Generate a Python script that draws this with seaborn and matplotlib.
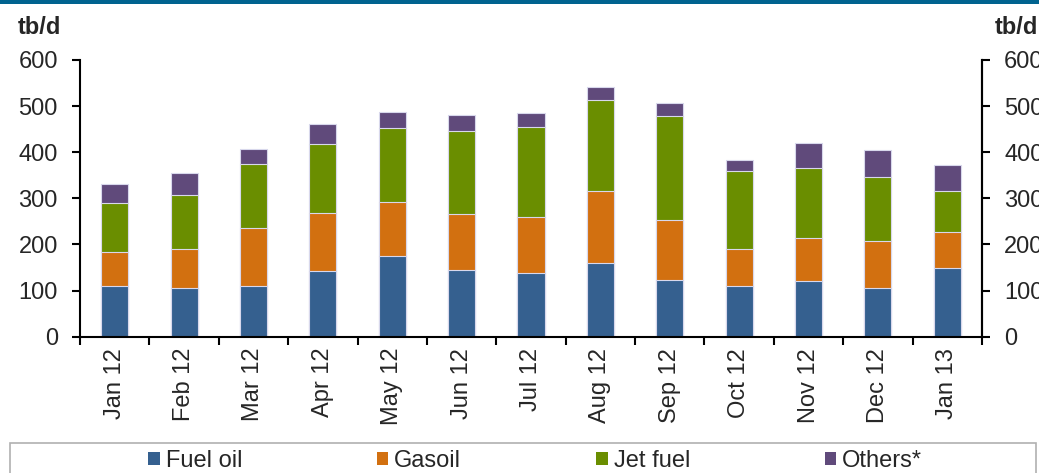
import numpy as np
import pandas as pd
import matplotlib
matplotlib.use("Agg")
import matplotlib.pyplot as plt
from matplotlib.patches import Rectangle, Patch
import seaborn as sns

months = ["Jan 12", "Feb 12", "Mar 12", "Apr 12", "May 12", "Jun 12", "Jul 12",
          "Aug 12", "Sep 12", "Oct 12", "Nov 12", "Dec 12", "Jan 13"]
fuel_oil = [110, 105, 111, 142, 176, 144, 139, 159, 124, 110, 121, 106, 149]
gasoil = [73, 86, 124, 126, 116, 122, 121, 158, 128, 81, 92, 101, 77]
jet_fuel = [106, 117, 140, 150, 161, 181, 195, 197, 226, 169, 153, 140, 89]
others = [43, 46, 33, 44, 34, 33, 31, 27, 29, 24, 55, 58, 58]
y_ticks = [0, 100, 200, 300, 400, 500, 600]

series_names = ["Fuel oil", "Gasoil", "Jet fuel", "Others*"]
colors = ["#35608F", "#D27010", "#6A8E00", "#604A7B"]

sns.set_theme(style="white")
plt.rcParams["font.family"] = ["Liberation Sans", "DejaVu Sans"]
plt.rcParams["font.size"] = 17

df = pd.DataFrame({"month": months, "Fuel oil": fuel_oil, "Gasoil": gasoil,
                   "Jet fuel": jet_fuel, "Others*": others})
cum = df[series_names].cumsum(axis=1)

fig = plt.figure(figsize=(10.39, 4.73), dpi=100)
ax = fig.add_axes([80 / 1039, 1 - 336.7 / 473, (982 - 80) / 1039, (336.7 - 60) / 473])

# stacked bars: draw cumulative totals from the top layer down
for name, col in reversed(list(zip(series_names, colors))):
    sns.barplot(x=df["month"], y=cum[name], color=col, width=0.39,
                edgecolor="#d8d8ec", linewidth=0.8, saturation=1, ax=ax)

ax.set_xlim(-0.5, len(months) - 0.5)
ax.set_ylim(0, 600)
ax.set_yticks(y_ticks)
ax.set_yticklabels([str(v) for v in y_ticks])
ax.set_xlabel("")
ax.set_ylabel("")

# category boundaries as ticks, labels at category centers
ax.set_xticks(np.arange(-0.5, len(months), 1.0))
ax.set_xticklabels([])
ax.set_xticks(np.arange(len(months)), minor=True)
ax.set_xticklabels(months, minor=True, rotation=90, fontsize=17)
ax.tick_params(axis="x", which="major", direction="out", length=6, width=1.5,
               color="black", bottom=True)
ax.tick_params(axis="x", which="minor", length=0, pad=8)
ax.tick_params(axis="y", direction="out", length=6, width=1.5, color="black",
               left=True, labelsize=17, pad=10)

for s in ["left", "bottom", "right"]:
    ax.spines[s].set_visible(True)
    ax.spines[s].set_color("black")
    ax.spines[s].set_linewidth(1.5)
ax.spines["top"].set_visible(False)
ax.grid(False)

ax2 = ax.twinx()
ax2.set_ylim(0, 600)
ax2.set_yticks(y_ticks)
ax2.set_yticklabels([str(v) for v in y_ticks])
ax2.tick_params(axis="y", direction="out", length=6, width=1.5, color="black",
                right=True, labelsize=17, pad=10)
for s in ["left", "bottom", "top"]:
    ax2.spines[s].set_visible(False)
ax2.spines["right"].set_color("black")
ax2.spines["right"].set_linewidth(1.5)
ax2.grid(False)

# unit labels
fig.text(18 / 1039, 1 - 28 / 473, "tb/d", fontsize=17, fontweight="bold",
         ha="left", va="center")
fig.text(1038 / 1039, 1 - 28 / 473, "tb/d", fontsize=17, fontweight="bold",
         ha="right", va="center")

# header band
fig.add_artist(Rectangle((0, 1 - 4 / 473), 1, 4 / 473, transform=fig.transFigure,
                         facecolor="#00638F", edgecolor="none"))

# legend box
fig.add_artist(Rectangle((10 / 1039, -0.05), 1026 / 1039, 0.05 + 1 - 443 / 473,
                         transform=fig.transFigure, facecolor="white",
                         edgecolor="#b0b0b0", linewidth=1.2))
handles = [Patch(facecolor=c, edgecolor="none") for c in colors]
fig.legend(handles, series_names, loc="center", bbox_to_anchor=(0.515, 1 - 461 / 473),
           ncol=4, frameon=False, fontsize=17, handlelength=0.5, handleheight=0.5,
           handletextpad=0.25, columnspacing=5.7, borderpad=0)

fig.savefig("out.png", dpi=100)
